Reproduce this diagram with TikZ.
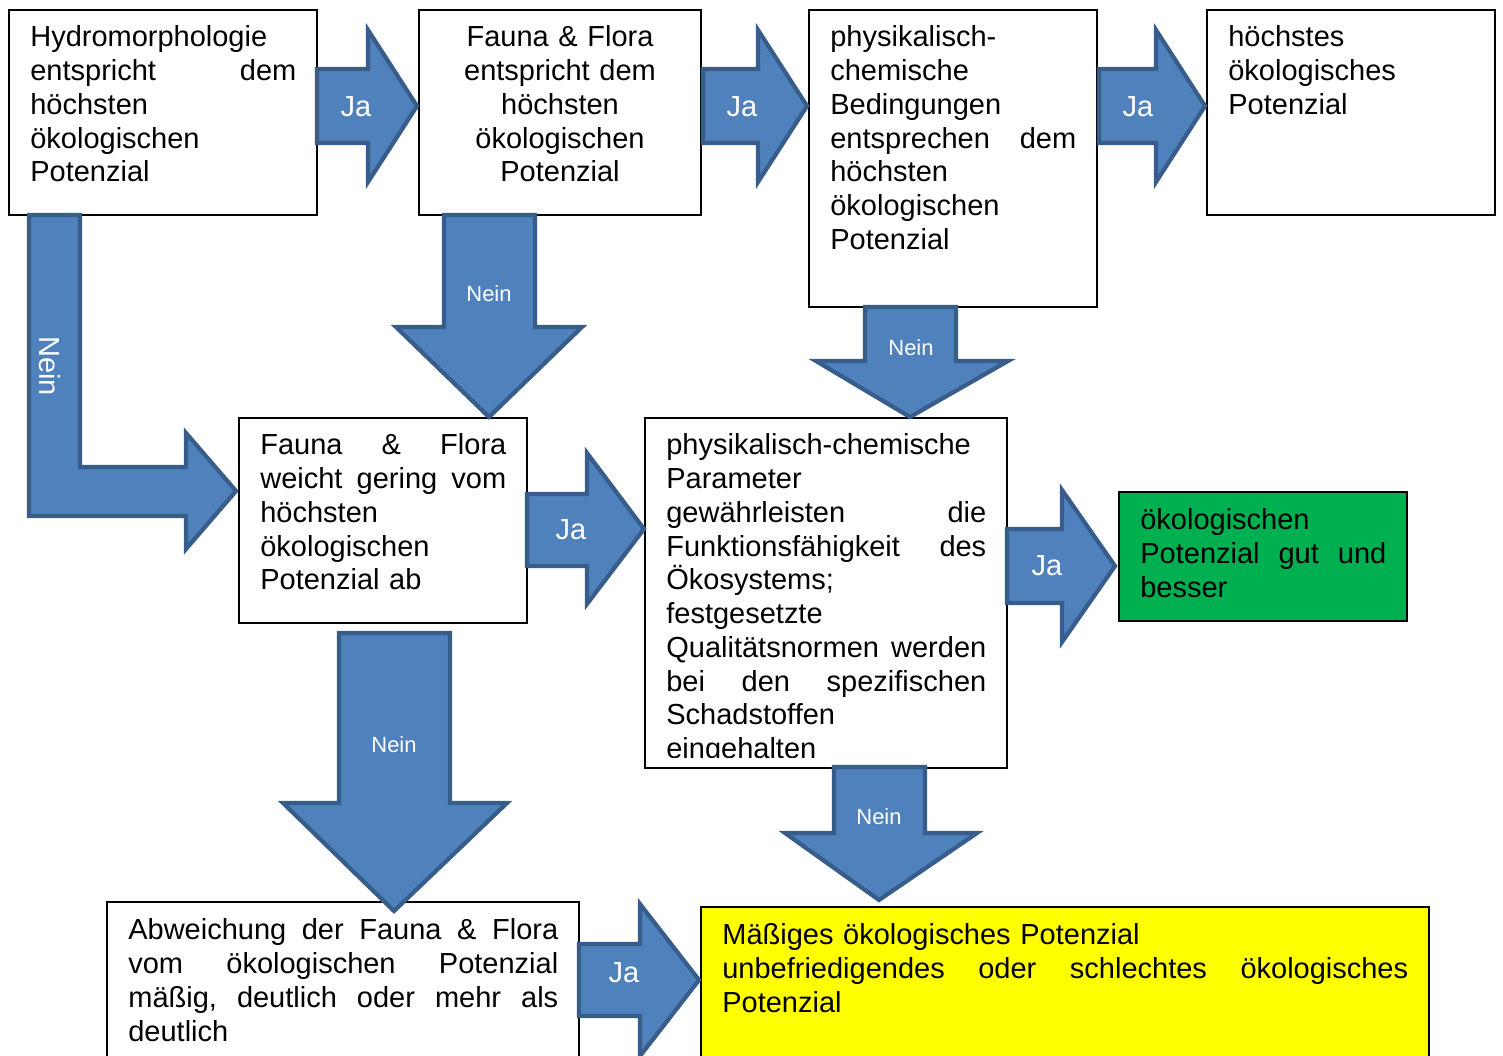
\documentclass[tikz,border=0pt]{standalone}
\usepackage{fontspec}
\setmainfont{Liberation Sans}
\usepackage{tikz}
\usetikzlibrary{positioning}
\definecolor{arrowblue}{HTML}{4F81BD}
\definecolor{arrowedge}{HTML}{385D8A}
\definecolor{goodgreen}{HTML}{00B050}
\definecolor{fairyellow}{HTML}{FFFF00}
\tikzset{
	outlinebox/.style={draw=black, line width=1pt}
}
\tikzset{
	boxtext/.style={anchor=north west, inner sep=0pt, align=left, font=\fontsize{16.5}{19.2}\selectfont}
}
\tikzset{
	blockarrow/.style={fill=arrowblue, draw=arrowedge, line width=2.4pt, line join=miter},
	jatext/.style={text=white, inner sep=0pt, font=\fontsize{16.5}{19.2}\selectfont},
	neintext/.style={text=white, inner sep=0pt, font=\fontsize{12.5}{15}\selectfont}
}

\begin{document}
\hyphenpenalty=10000
\exhyphenpenalty=10000
\begin{tikzpicture}[x=0.02cm, y=-0.02cm]
      \clip (0,0) rectangle (1503,1055);

      % boxes
      \draw[outlinebox, fill=white] (9,10) rectangle (317,215);
      \draw[outlinebox, fill=white] (419,10) rectangle (701,215);
      \draw[outlinebox, fill=white] (809,10) rectangle (1097,307);
      \draw[outlinebox, fill=white] (1207,10) rectangle (1495,215);
      \draw[outlinebox, fill=white] (239,418) rectangle (527,623);
      \draw[outlinebox, fill=white] (645,418) rectangle (1007,768);
      \draw[outlinebox, fill=goodgreen] (1119,492) rectangle (1407,621);
      \draw[outlinebox, fill=white] (107,902) rectangle (579,1070);
      \draw[outlinebox, fill=fairyellow] (701,907) rectangle (1429,1070);

      % box texts
      \node[boxtext, text width=5.32cm] (hydro) at (30,23)
        {\strut Hydromorphologie\\ entspricht\hfill dem\\ höchsten\\ ökologischen\\ Potenzial};
      \node[boxtext, anchor=north, align=center, text width=4.8cm] (faunatop) at (560,23)
        {\strut Fauna \& Flora\\ entspricht dem\\ höchsten\\ ökologischen\\ Potenzial};
      \node[boxtext, text width=4.92cm] (physiktop) at (830,23)
        {\strut physikalisch-\\ chemische\\ Bedingungen\\ entsprechen\hfill dem\\ höchsten\\ ökologischen\\ Potenzial};
      \node[boxtext, text width=4.92cm] (hoechstes) at (1228,23)
        {\strut höchstes\\ ökologisches\\ Potenzial};
      \node[boxtext, text width=4.92cm] (faunagering) at (260,431)
        {\strut Fauna\hfill\&\hfill Flora\\ weicht\hfill gering\hfill vom\\ höchsten\\ ökologischen\\ Potenzial ab};
      \begin{scope}
        \clip (645,418) rectangle (1007,757);
        \node[boxtext, text width=6.4cm] (parameter) at (666,431)
          {\strut physikalisch-chemische\\ Parameter\\ gewährleisten\hfill die\\ Funktionsfähigkeit\hfill des\\ Ökosystems;\\ festgesetzte\\ Qualitätsnormen\hfill werden\\ bei\hfill den\hfill spezifischen\\ Schadstoffen\\ eingehalten};
      \end{scope}
      \node[boxtext, text width=4.92cm] (gutbesser) at (1140,506)
        {\strut ökologischen\\ Potenzial\hfill gut\hfill und\\ besser};
      \node[boxtext, text width=8.6cm] (abweichung) at (128,916)
        {\strut Abweichung\hfill der\hfill Fauna\hfill\&\hfill Flora\\ vom\hfill ökologischen\hfill Potenzial\\ mäßig,\hfill deutlich\hfill oder\hfill mehr\hfill als\\ deutlich};
      \node[boxtext, text width=13.72cm] (maessig) at (722,921)
        {\strut Mäßiges ökologisches Potenzial\\ unbefriedigendes\hfill oder\hfill schlechtes\hfill ökologisches\\ Potenzial};

      % ja arrows, top row
      \foreach \x/\l [count=\i] in {317/100, 703/104, 1099/106} {
        \draw[blockarrow] (\x,69) -- (\x+\l-49,69) -- (\x+\l-49,30) -- (\x+\l,106)
          -- (\x+\l-49,182) -- (\x+\l-49,143) -- (\x,143) -- cycle;
        \node[jatext] (jatop\i) at (\x+39,107) {Ja};
      }

      % ja arrows, lower rows
      \draw[blockarrow] (527,494) -- (587,494) -- (587,453) -- (644,529)
        -- (587,604) -- (587,566) -- (527,566) -- cycle;
      \node[jatext] (jamid) at (571,530) {Ja};
      \draw[blockarrow] (1007,529) -- (1062,529) -- (1062,490) -- (1115,566)
        -- (1062,642) -- (1062,603) -- (1007,603) -- cycle;
      \node[jatext] (jagut) at (1047,566) {Ja};
      \draw[blockarrow] (579,944) -- (640,944) -- (640,904) -- (699,980)
        -- (640,1056) -- (640,1016) -- (579,1016) -- cycle;
      \node[jatext] (jamaessig) at (624,973) {Ja};

      % nein arrows
      \draw[blockarrow] (29,215) -- (80,215) -- (80,467) -- (186,467) -- (186,433)
        -- (236,491) -- (186,549) -- (186,516) -- (29,516) -- cycle;
      \node[jatext, rotate=-90] (neinhydro) at (50,366) {Nein};
      \draw[blockarrow] (444,215) -- (535,215) -- (535,327) -- (582,327)
        -- (489,417) -- (396,327) -- (444,327) -- cycle;
      \node[neintext] (neinfauna) at (489,294) {Nein};
      \draw[blockarrow] (865,307) -- (956,307) -- (956,361) -- (1008,361)
        -- (910,417) -- (816,361) -- (865,361) -- cycle;
      \node[neintext] (neinphysik) at (911,348) {Nein};
      \draw[blockarrow] (339,633) -- (450,633) -- (450,803) -- (507,803)
        -- (394,911) -- (283,803) -- (339,803) -- cycle;
      \node[neintext] (neingering) at (394,745) {Nein};
      \draw[blockarrow] (834,767) -- (925,767) -- (925,833) -- (977,833)
        -- (879,900) -- (785,833) -- (834,833) -- cycle;
      \node[neintext] (neinparameter) at (879,817) {Nein};
    \end{tikzpicture}
\end{document}
